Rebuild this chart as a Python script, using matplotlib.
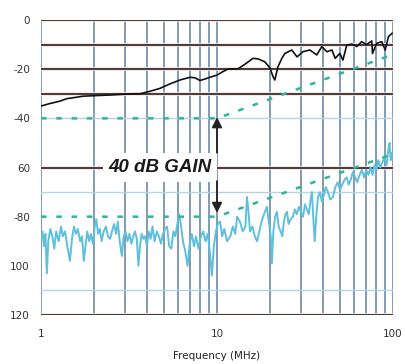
import matplotlib
matplotlib.use('Agg')
import matplotlib.pyplot as plt

# ---------------- data ----------------
out_freq = [1.0, 1.12, 1.28, 1.40, 1.56, 1.73, 1.97, 2.47, 3.33, 3.65, 4.16, 4.74,
            5.40, 6.16, 7.02, 7.49, 8.0, 8.54, 9.12, 10.0, 10.8, 11.5, 13.2, 14.4,
            16.0, 17.1, 18.7, 20.0, 20.8, 21.3, 22.2, 23.4, 24.3, 26.6, 28.5, 30.7,
            33.7, 36.9, 39.4, 42.1, 45.0, 46.9, 49.9, 51.9, 54.6, 58.4, 62.2, 66.4,
            70.7, 75.7, 76.5, 80.7, 86.3, 90.3, 94.2, 98.8]
out_db = [-35, -34, -33, -32, -31.5, -31, -30.8, -30.5, -30, -30, -29, -27.8,
          -26, -24.4, -23.3, -23.5, -24.6, -24, -23.3, -22.4, -21, -20, -19.8, -18,
          -15.6, -15.8, -17, -19.5, -23, -24.4, -19, -15.5, -13.6, -12.2, -15, -12.9,
          -12.2, -14.2, -10.8, -12.9, -12.2, -15.6, -13.6, -16.3, -10.2, -9.8, -10.8, -8.8,
          -10, -8.5, -13.6, -9.5, -8.8, -12.2, -6.8, -5.4]

noise_freq = [1.00, 1.02, 1.04, 1.06, 1.08, 1.10, 1.13, 1.16, 1.19, 1.22, 1.26, 1.30,
              1.33, 1.37, 1.41, 1.46, 1.50, 1.54, 1.58, 1.62, 1.67, 1.71, 1.75, 1.79,
              1.83, 1.88, 1.92, 1.97, 2.02, 2.06, 2.11, 2.16, 2.21, 2.27, 2.34, 2.40,
              2.47, 2.53, 2.60, 2.67, 2.73, 2.80, 2.88, 2.95, 3.02, 3.10, 3.18, 3.26,
              3.34, 3.42, 3.50, 3.58, 3.65, 3.73, 3.82, 3.90, 4.00, 4.10, 4.20, 4.30,
              4.42, 4.55, 4.68, 4.80, 4.93, 5.06, 5.20, 5.35, 5.50, 5.65, 5.80, 5.95,
              6.10, 6.25, 6.40, 6.60, 6.80, 7.00, 7.20, 7.40, 7.60, 7.85, 8.10, 8.35,
              8.60, 8.85, 9.10, 9.35, 9.60, 9.85, 10.1, 10.4,
              10.7, 11.0, 11.4, 11.9, 12.3, 12.7, 13.0, 13.5, 14.0, 14.5, 14.8, 15.1,
              15.4, 15.9, 16.4, 16.9, 17.4, 17.9, 18.5, 19.2, 19.7, 20.2, 20.5, 20.9,
              21.4, 21.9, 22.4, 23.0, 23.5, 24.0, 24.5, 25.0, 25.5, 26.2, 27.0, 27.7,
              28.4, 29.2, 30.0, 30.8, 31.6, 32.4, 33.2, 34.0, 34.6, 35.2, 35.9, 36.7,
              37.5, 38.5, 39.5, 40.5, 41.5, 42.7, 44.0, 45.6, 47.0, 48.5, 50.0, 51.5,
              53.0, 54.6, 56.0, 57.5, 59.1, 61.0, 62.5, 64.6, 66.5, 68.5, 70.5, 72.5,
              74.5, 76.5, 78.5, 80.5, 82.5, 84.5, 87.0, 89.5, 92.0, 94.0, 95.6, 97.0,
              98.5, 100.0]
noise_db = [-89, -86, -92, -87, -103, -90, -85, -88, -93, -86, -90, -84,
            -88, -86, -92, -98, -89, -84, -87, -85, -90, -88, -98, -92,
            -86, -90, -87, -91, -84, -81, -87, -85, -90, -86, -84, -88,
            -89, -86, -83, -87, -82, -90, -96, -88, -86, -90, -87, -91,
            -88, -86, -89, -100, -92, -87, -89, -88, -92, -86, -89, -84,
            -90, -86, -88, -91, -87, -85, -84, -92, -93, -86, -88, -83,
            -79, -84, -90, -94, -100, -91, -87, -92, -88, -93, -88, -86,
            -90, -87, -94, -104, -92, -86, -83, -82,
            -88, -85, -90, -88, -84, -87, -80, -82, -86, -84, -72, -78,
            -86, -84, -88, -90, -86, -82, -79, -76, -82, -88, -99, -86,
            -80, -78, -84, -86, -88, -82, -79, -78, -83, -81, -80, -77,
            -79, -76, -78, -80, -75, -77, -79, -73, -70, -80, -90, -79,
            -72, -70, -74, -71, -68, -70, -73, -72, -68, -66, -69, -67,
            -65, -64, -67, -65, -62, -64, -66, -63, -61, -64, -61, -63,
            -60, -63, -59, -61, -57, -60, -58, -56, -59, -53, -50, -57,
            -54, -56]

mask_freq = [1, 10, 100]
upper_mask_db = [-40, -40, -14]
lower_mask_db = [-80, -80, -54.5]

y_ticks = [0, -20, -40, -60, -80, -100, -120]
y_tick_labels = ["0", "-20", "-40", "60", "-80", "100", "120"]
x_ticks = [1, 10, 100]
x_tick_labels = ["1", "10", "100"]
black_levels = [0, -10, -20, -30, -60, -120]
blue_levels = [-40, -70, -110]
vgrid = [1, 2, 3, 4, 5, 6, 7, 8, 9, 10, 20, 30, 40, 50, 60, 70, 80, 90, 100]

# ---------------- figure ----------------
plt.rcParams['lines.scale_dashes'] = False
fig = plt.figure(figsize=(4.06, 3.64), dpi=100)
ax = fig.add_axes([0.101, 0.1346, 0.867, 0.8104])
ax.set_xscale('log')
ax.set_xlim(1, 100)
ax.set_ylim(-120, 0)

for f in vgrid:
    ax.axvline(f, color='#7593ad', lw=1.3, zorder=1)
for lv in blue_levels:
    ax.axhline(lv, color='#b3d4e6', lw=1.0, zorder=1)
for lv in black_levels:
    ax.axhline(lv, color='#f9e2dc', lw=2.6, zorder=1.5)
    ax.axhline(lv, color='#111111', lw=1.1, zorder=2)

ax.plot(noise_freq, noise_db, color='#5ec0dc', lw=1.4, zorder=3)
ax.plot(mask_freq, upper_mask_db, color='#2fb59a', lw=1.8, dashes=(4, 7), zorder=4)
ax.plot(mask_freq, lower_mask_db, color='#2fb59a', lw=1.8, dashes=(4, 7), zorder=4)
ax.plot(out_freq, out_db, color='#111111', lw=1.2, zorder=5)

ax.text(4.75, -60, "40 dB GAIN", fontsize=13.5, fontweight='bold', fontstyle='italic',
        family='Liberation Sans', color='#1a1a1a', ha='center', va='center',
        bbox=dict(boxstyle='square,pad=0.3', fc='white', ec='none'), zorder=6)
ax.annotate('', xy=(10, -39.5), xytext=(10, -54), zorder=7,
            arrowprops=dict(arrowstyle='-|>,head_width=0.3,head_length=0.6',
                            color='#222222', lw=1.3, shrinkA=0, shrinkB=0))
ax.annotate('', xy=(10, -78.5), xytext=(10, -65.5), zorder=7,
            arrowprops=dict(arrowstyle='-|>,head_width=0.3,head_length=0.6',
                            color='#222222', lw=1.3, shrinkA=0, shrinkB=0))

for s in ax.spines.values():
    s.set_visible(False)
ax.set_yticks(y_ticks)
ax.set_yticklabels(y_tick_labels)
ax.set_xticks(x_ticks)
ax.set_xticklabels(x_tick_labels)
ax.minorticks_off()
ax.tick_params(axis='both', length=0, labelsize=7.5, colors='#333333')
ax.tick_params(axis='y', pad=8)
ax.tick_params(axis='x', pad=10)
ax.set_xlabel("Frequency (MHz)", fontsize=7.5, color='#222222', labelpad=9)

fig.savefig('out.png', dpi=100, facecolor='white')
